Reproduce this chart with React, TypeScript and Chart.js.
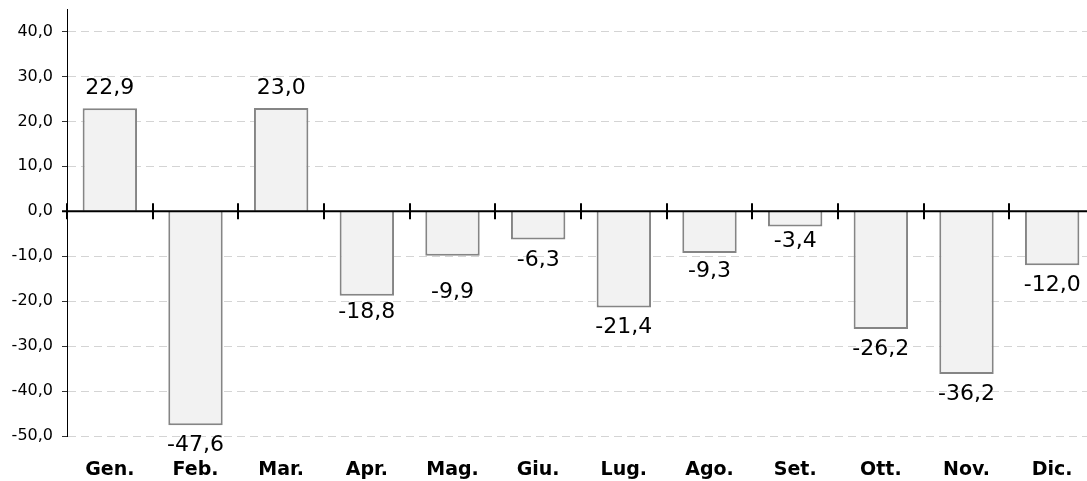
import React, { useEffect, useRef } from 'react';
import { Chart, registerables } from 'chart.js';

Chart.register(...registerables);

const months = ['Gen.', 'Feb.', 'Mar.', 'Apr.', 'Mag.', 'Giu.', 'Lug.', 'Ago.', 'Set.', 'Ott.', 'Nov.', 'Dic.'];
const values = [22.9, -47.6, 23.0, -18.8, -9.9, -6.3, -21.4, -9.3, -3.4, -26.2, -36.2, -12.0];
const yMin = -50;
const yMax = 45;
const yStep = 10;
// extra vertical nudge of individual value labels (as placed in the original)
const labelNudge = [0, 0, 0, -4, 16, 0, 0, -2, -6, 0, 0, 0];

const fmt = (v: number) => v.toFixed(1).replace('.', ',');

const zeroAndLabels = {
  id: 'zeroAndLabels',
  afterDatasetsDraw(chart: any) {
    const { ctx, chartArea, scales } = chart;
    const y = scales.y;
    const y0 = y.getPixelForValue(0);
    ctx.save();
    ctx.strokeStyle = '#000';
    ctx.lineWidth = 2;
    ctx.beginPath();
    ctx.moveTo(chartArea.left - 5, y0);
    ctx.lineTo(chartArea.right, y0);
    ctx.stroke();
    const n = months.length;
    const w = (chartArea.right - chartArea.left) / n;
    for (let i = 0; i <= n; i++) {
      const xb = Math.round(chartArea.left + i * w);
      ctx.beginPath();
      ctx.moveTo(xb, y0 - 8);
      ctx.lineTo(xb, y0 + 8);
      ctx.stroke();
    }
    const meta = chart.getDatasetMeta(0);
    ctx.fillStyle = '#000';
    ctx.textAlign = 'center';
    ctx.textBaseline = 'alphabetic';
    // value labels
    ctx.font = '22px "DejaVu Sans"';
    meta.data.forEach((bar: any, i: number) => {
      const v = values[i];
      const ty = (v >= 0 ? bar.y - 14 : bar.y + 26) + labelNudge[i];
      ctx.fillText(fmt(v), bar.x, ty);
    });
    // category labels
    ctx.font = 'bold 19px "DejaVu Sans"';
    meta.data.forEach((bar: any, i: number) => {
      ctx.fillText(months[i], bar.x, 475);
    });
    ctx.restore();
  },
};

export default function App() {
  const ref = useRef<HTMLCanvasElement>(null);
  useEffect(() => {
    if (!ref.current) return;
    const chart = new Chart(ref.current, {
      type: 'bar',
      data: {
        labels: months,
        datasets: [
          {
            data: values,
            backgroundColor: '#f2f2f2',
            borderColor: '#858585',
            borderWidth: 2,
            barPercentage: 0.635,
            categoryPercentage: 1,
          },
        ],
      },
      options: {
        animation: false,
        responsive: false,
        layout: { padding: { top: 9, right: 0, bottom: 37, left: 0 } },
        plugins: { legend: { display: false }, tooltip: { enabled: false } },
        scales: {
          x: {
            grid: { display: false },
            border: { display: false },
            ticks: { display: false },
          },
          y: {
            min: yMin,
            max: yMax,
            afterFit(scale: any) {
              scale.width = 67;
              scale.paddingTop = 0;
              scale.paddingBottom = 0;
            },
            ticks: {
              stepSize: yStep,
              includeBounds: false,
              color: '#000',
              font: { family: '"DejaVu Sans"', size: 16 },
              padding: 9,
              callback: (v: any) => fmt(Number(v)),
            },
            grid: {
              color: (c: any) => (c.tick && c.tick.value === 0 ? 'rgba(0,0,0,0)' : '#d4d4d4'),
              tickColor: '#333',
              tickLength: 5,
              lineWidth: 1,
            },
            border: { display: true, color: '#000', width: 1, dash: [8, 5] },
          },
        },
      },
      plugins: [zeroAndLabels],
    });
    return () => chart.destroy();
  }, []);
  return (
    <div style={{ position: 'absolute', left: 0, top: 0, width: 1087, height: 481, overflow: 'hidden', background: '#fff' }}>
      <canvas ref={ref} width={1095} height={481} style={{ display: 'block' }} />
    </div>
  );
}
